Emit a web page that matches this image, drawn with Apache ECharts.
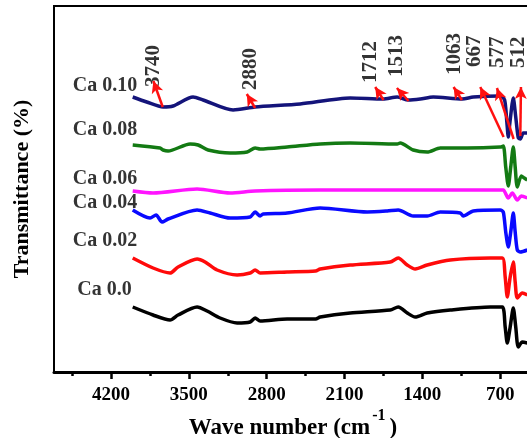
<!DOCTYPE html>
<html>
<head>
<meta charset="utf-8">
<script src="https://cdn.jsdelivr.net/npm/echarts@6/dist/echarts.min.js"></script>
<style>
  html, body { margin: 0; padding: 0; background: #fff; overflow: hidden; }
  /* the plot runs past the right edge of the window, as in the source figure */
  #chart { width: 580px; height: 438px; }
</style>
</head>
<body>
<div id="chart"></div>
<script>
// x ticks (wave number, cm-1)
const majorTicks = [700, 1400, 2100, 2800, 3500, 4200];
const minorTicks = [350, 1050, 1750, 2450, 3150, 3850, 4550];

// spectra, [wave number, transmittance (offset, arb.)]
const ca010 = [[4005, 275], [3879, 270], [3732, 265], [3642, 266], [3462, 275], [3372, 272], [3102, 262], [2904, 265],
  [2499, 268], [2049, 274], [1752, 273], [1626, 275], [1527, 272], [1419, 273], [1302, 275], [1041, 273], [942, 275],
  [699, 276], [660, 272], [640, 250], [627, 235], [612, 250], [582, 274], [560, 255], [537, 234], [519, 233], [492, 239], [456, 239]];
const ca008 = [[4005, 227], [3759, 224], [3732, 222], [3687, 221], [3489, 228], [3417, 227], [3327, 222], [3129, 219],
  [2976, 220], [2904, 224], [2859, 223], [2616, 225], [2319, 228], [2049, 229], [1626, 228], [1599, 229], [1482, 222],
  [1356, 220], [1239, 224], [996, 224], [699, 225], [672, 226], [650, 205], [627, 186], [605, 205], [582, 225],
  [565, 205], [546, 185], [510, 196], [483, 194], [456, 192]];
const ca006 = [[4005, 181], [3822, 179], [3426, 183], [3129, 179], [2904, 181], [2319, 182], [1599, 182], [699, 182],
  [672, 182], [627, 174], [591, 179], [546, 172], [510, 176], [456, 174]];
const ca004 = [[4005, 162], [3849, 154], [3795, 157], [3741, 150], [3687, 153], [3426, 162], [3309, 159], [3129, 154],
  [2949, 155], [2904, 160], [2859, 156], [2832, 158], [2616, 159], [2319, 164], [1896, 160], [1716, 161], [1617, 162],
  [1482, 156], [1356, 156], [1239, 160], [1059, 159], [1032, 156], [942, 161], [699, 162], [672, 160], [650, 140],
  [627, 125], [605, 140], [582, 159], [565, 140], [546, 122], [519, 120], [456, 122]];
const ca002 = [[4005, 114], [3822, 104], [3669, 99], [3597, 105], [3426, 113], [3354, 110], [3246, 102], [3066, 97],
  [2949, 99], [2904, 102], [2859, 99], [2616, 100], [2360, 101], [2319, 103], [2049, 107], [1689, 110], [1617, 114],
  [1536, 107], [1464, 103], [1356, 107], [1149, 112], [789, 114], [681, 114], [655, 95], [636, 75], [610, 95],
  [582, 110], [565, 90], [546, 74], [501, 79], [456, 77]];
const ca000 = [[4005, 65], [3822, 57], [3669, 52], [3597, 57], [3426, 65], [3336, 61], [3219, 54], [3066, 49],
  [2949, 50], [2904, 54], [2859, 51], [2616, 53], [2360, 53], [2319, 55], [2049, 59], [1689, 62], [1617, 65],
  [1536, 59], [1464, 55], [1356, 59], [1149, 62], [789, 65], [681, 65], [655, 45], [636, 29], [610, 45],
  [582, 64], [560, 45], [537, 25], [501, 30], [456, 29]];

const sampleNames = ['Ca 0.10', 'Ca 0.08', 'Ca 0.06', 'Ca 0.04', 'Ca 0.02', 'Ca 0.0'];
const sampleData = [ca010, ca008, ca006, ca004, ca002, ca000];
const sampleColors = ['#14147a', '#137a13', '#ff14ff', '#0a0aff', '#ff0a0a', '#000000'];
const nameSpots = [[4254, 286], [4254, 242], [4254, 193], [4254, 169], [4254, 131], [4258, 82]];

// peak annotations
const peakLabels = ['3740', '2880', '1712', '1513', '1063', '667', '577', '512'];
const peakLabelAt = [[3817, 285], [2949, 282], [1866, 289], [1629, 295], [1109, 297], [929, 305], [722, 304], [533, 304]];
const arrowFrom = [[3735, 265], [2904, 264], [1749, 272], [1524, 271], [1044, 272], [669, 235], [579, 233], [519, 236]];
const arrowTo = [[3819, 291], [2979, 278], [1824, 285], [1629, 284], [1119, 285], [879, 285], [729, 284], [513, 285]];

const serif = 'Liberation Serif';

const series = sampleNames.map((name, i) => ({
  name: name,
  type: 'line',
  data: sampleData[i],
  showSymbol: false,
  smooth: 0.25,
  lineStyle: { color: sampleColors[i], width: 3.5 },
  z: 3
}));

series[0].markLine = {
  silent: true,
  symbol: ['none', 'arrow'],
  symbolSize: [9, 12],
  lineStyle: { color: '#ff1010', width: 2.5, type: 'solid' },
  label: { show: false },
  data: arrowFrom.map((p, i) => [{ coord: p }, { coord: arrowTo[i] }])
};

series.push({
  type: 'scatter',
  silent: true,
  symbolSize: 0,
  data: nameSpots.map((p, i) => ({ value: p, name: sampleNames[i] })),
  label: {
    show: true, position: 'inside', formatter: '{b}',
    fontFamily: serif, fontWeight: 'bold', fontSize: 20, color: '#000'
  }
});

series.push({
  type: 'scatter',
  silent: true,
  symbolSize: 0,
  data: peakLabelAt.map((p, i) => ({ value: p, name: peakLabels[i] })),
  label: {
    show: true, position: 'inside', formatter: '{b}', rotate: 90,
    align: 'left', verticalAlign: 'middle',
    fontFamily: serif, fontWeight: 'bold', fontSize: 21, color: '#000'
  }
});

const chart = echarts.init(document.getElementById('chart'));
chart.setOption({
  animation: false,
  grid: {
    left: 54, top: 6, right: 2, bottom: 66,
    outerBoundsMode: 'none', containLabel: false,
    show: true, borderColor: '#000', borderWidth: 2
  },
  xAxis: [
    {
      type: 'value', min: 0, max: 4713, inverse: true, position: 'bottom',
      axisLine: { lineStyle: { color: '#000', width: 3 } },
      axisTick: { customValues: majorTicks, length: 7, lineStyle: { color: '#000', width: 2.5 } },
      axisLabel: {
        customValues: majorTicks, margin: 14, formatter: v => String(v),
        fontFamily: serif, fontWeight: 'bold', fontSize: 19, color: '#000'
      },
      splitLine: { show: false },
      name: '{t|Wave number (cm}{s|-1}{t|)}',
      nameLocation: 'middle',
      nameGap: 44,
      nameMoveOverlap: false,
      nameTextStyle: {
        padding: [0, 46, 0, 0],
        rich: {
          t: { fontFamily: serif, fontWeight: 'bold', fontSize: 23, color: '#000', verticalAlign: 'bottom', lineHeight: 24 },
          s: { fontFamily: serif, fontWeight: 'bold', fontSize: 16, color: '#000', verticalAlign: 'bottom', lineHeight: 16, padding: [0, 4, 16, 2] }
        }
      }
    },
    {
      type: 'value', min: 0, max: 4713, inverse: true, position: 'bottom',
      axisLine: { show: false },
      axisTick: { customValues: minorTicks, length: 4, lineStyle: { color: '#000', width: 2.5 } },
      axisLabel: { show: false },
      splitLine: { show: false }
    }
  ],
  yAxis: {
    type: 'value', min: 0, max: 366,
    axisLine: { show: true, lineStyle: { color: '#000', width: 3.5 } },
    axisTick: { show: false },
    axisLabel: { show: false },
    splitLine: { show: false },
    name: 'Transmittance (%)',
    nameLocation: 'middle',
    nameGap: 21,
    nameTextStyle: { fontFamily: serif, fontWeight: 'bold', fontSize: 22, color: '#000' }
  },
  series: series
});
</script>
</body>
</html>
